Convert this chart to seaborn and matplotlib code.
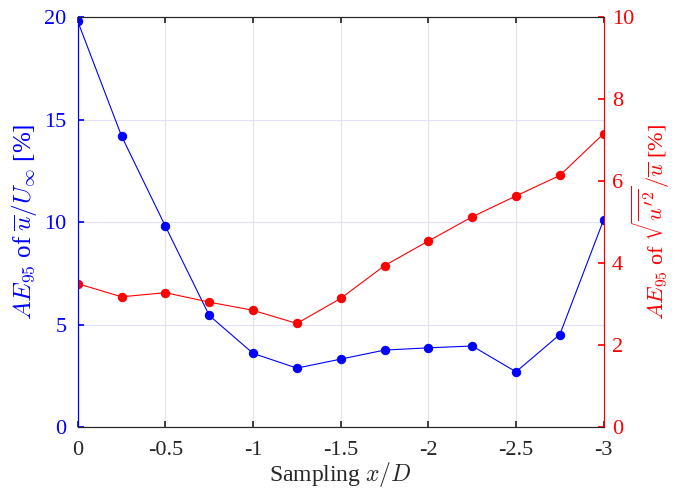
import numpy as np
import pandas as pd
import matplotlib
matplotlib.use("Agg")
import matplotlib.pyplot as plt
import seaborn as sns

# sampling positions and the two error measures
x_pos = [0, -0.25, -0.5, -0.75, -1, -1.25, -1.5, -1.75, -2, -2.25, -2.5, -2.75, -3]
ae_mean = [19.8, 14.2, 9.8, 5.45, 3.6, 2.88, 3.32, 3.76, 3.87, 3.96, 2.7, 4.52, 10.12]
ae_rms = [3.5, 3.18, 3.28, 3.05, 2.85, 2.53, 3.14, 3.94, 4.54, 5.13, 5.64, 6.14, 7.16]

df = pd.DataFrame({"x": x_pos, "mean": ae_mean, "rms": ae_rms})

sns.set_theme(style="white")
plt.rcParams["font.family"] = ["Liberation Serif", "DejaVu Serif"]
plt.rcParams["mathtext.fontset"] = "cm"
plt.rcParams["axes.unicode_minus"] = False

BLUE = "#0000ff"
RED = "#ff0000"

fig, ax = plt.subplots(figsize=(6.76, 4.91), dpi=100)
fig.subplots_adjust(left=0.115, right=0.893, top=0.965, bottom=0.13)

sns.lineplot(data=df, x="x", y="mean", ax=ax, color=BLUE, lw=0.8,
             marker="o", markersize=6, markeredgecolor=BLUE)
ax.set_xlim(0, -3)
ax.set_ylim(0, 20)
ax.set_xticks([0, -0.5, -1, -1.5, -2, -2.5, -3])
ax.set_xticklabels(["0", "-0.5", "-1", "-1.5", "-2", "-2.5", "-3"])
ax.set_yticks([0, 5, 10, 15, 20])
ax.grid(axis="x", color="#e3e3e3", lw=0.8)
ax.grid(axis="y", color="#e0e0ff", lw=0.8)
ax.set_xlabel(r"Sampling $x/D$", fontsize=17, labelpad=0)
ax.set_ylabel(r"$AE_{95}$ of $\overline{u}/U_\infty$ [%]", fontsize=18, color=BLUE, labelpad=4)
ax.tick_params(axis="y", colors=BLUE, labelsize=16, direction="in", length=4, pad=8)
ax.tick_params(axis="x", colors="#262626", labelsize=16, direction="in", length=4,
               top=True, bottom=True, pad=10)
ax.spines["left"].set_color(BLUE)
ax.spines["bottom"].set_color("#262626")
ax.spines["top"].set_color("#262626")
for s in ax.spines.values():
    s.set_linewidth(0.8)

ax2 = ax.twinx()
sns.lineplot(data=df, x="x", y="rms", ax=ax2, color=RED, lw=0.8,
             marker="o", markersize=6, markeredgecolor=RED)
ax2.set_ylim(0, 10)
ax2.set_yticks([0, 2, 4, 6, 8, 10])
ax2.set_ylabel(r"$AE_{95}$ of $\sqrt{\overline{u'^2}}/\overline{u}$ [%]", fontsize=16, color=RED)
ax2.yaxis.set_label_coords(1.05, 0.5)
ax2.tick_params(axis="y", colors=RED, labelsize=16, direction="in", length=4, right=True, pad=6)
ax2.spines["right"].set_color(RED)
ax2.spines["left"].set_color(BLUE)
for s in ax2.spines.values():
    s.set_linewidth(0.8)
ax2.grid(False)
for a in (ax, ax2):
    a.set_xlim(0, -3)

fig.savefig("out.png", dpi=100)
